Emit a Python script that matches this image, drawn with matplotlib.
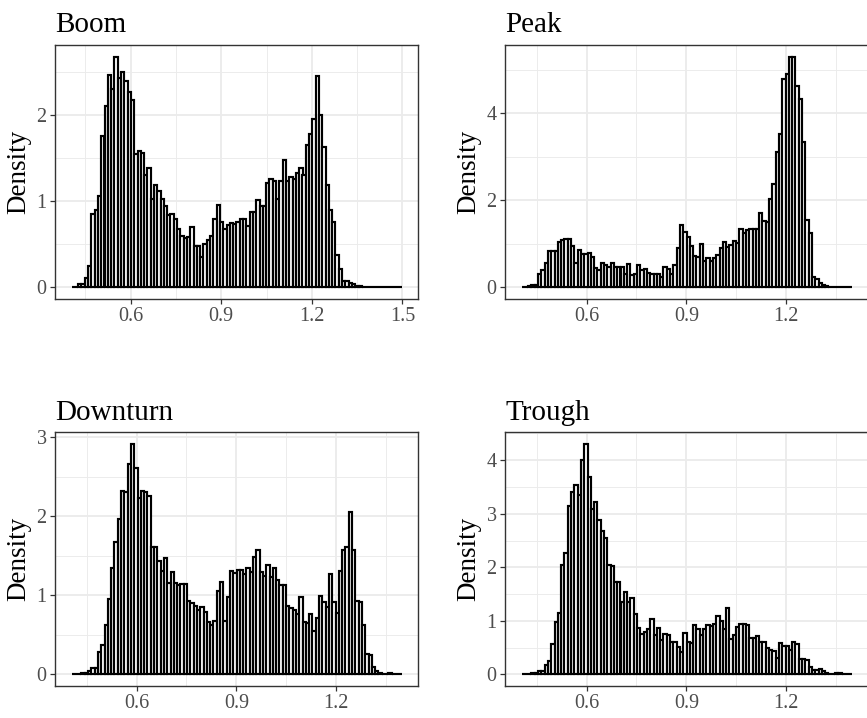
import numpy as np
import matplotlib
matplotlib.use("Agg")
import matplotlib.pyplot as plt

# --- data: histogram densities (100 bins per panel) ---
boom_range = (0.404, 1.497)
boom_density = [
    0.0, 0.01, 0.04, 0.04, 0.11, 0.25, 0.85, 0.90, 1.06, 1.76,
    2.11, 2.47, 2.30, 2.68, 2.43, 2.50, 2.40, 2.27, 2.18, 1.55,
    1.58, 1.56, 1.30, 1.39, 1.03, 1.19, 1.12, 1.03, 0.95, 0.84,
    0.85, 0.79, 0.68, 0.60, 0.57, 0.58, 0.70, 0.48, 0.48, 0.35,
    0.50, 0.55, 0.60, 0.80, 0.96, 0.76, 0.68, 0.72, 0.75, 0.74,
    0.76, 0.79, 0.79, 0.71, 0.87, 0.87, 1.01, 0.95, 0.95, 1.21,
    1.26, 1.24, 1.03, 1.23, 1.48, 1.23, 1.28, 1.26, 1.33, 1.39,
    1.30, 1.65, 1.78, 1.95, 2.45, 2.00, 1.63, 1.19, 0.90, 0.76,
    0.38, 0.21, 0.08, 0.07, 0.05, 0.04, 0.02, 0.02, 0.005, 0.005,
    0.005, 0.005, 0.005, 0.005, 0.005, 0.005, 0.005, 0.005, 0.005, 0.005,
]

peak_range = (0.404, 1.397)
peak_density = [
    0.005, 0.01, 0.04, 0.06, 0.05, 0.32, 0.40, 0.57, 0.83, 0.83,
    0.84, 1.05, 1.09, 1.12, 1.12, 0.96, 0.57, 0.86, 0.76, 0.76,
    0.78, 0.70, 0.44, 0.41, 0.55, 0.51, 0.48, 0.55, 0.48, 0.48,
    0.46, 0.30, 0.54, 0.28, 0.31, 0.51, 0.41, 0.42, 0.33, 0.32,
    0.32, 0.32, 0.24, 0.46, 0.42, 0.30, 0.51, 0.90, 1.44, 1.28,
    1.15, 0.96, 0.73, 0.69, 0.99, 0.61, 0.67, 0.60, 0.67, 0.74,
    0.90, 1.05, 0.92, 0.98, 1.07, 1.03, 1.34, 1.26, 1.31, 1.34,
    1.35, 1.35, 1.72, 1.53, 1.51, 2.04, 2.38, 3.10, 3.53, 4.79,
    4.89, 5.30, 5.30, 4.63, 4.32, 3.33, 1.55, 1.24, 0.23, 0.19,
    0.10, 0.05, 0.03, 0.02, 0.01, 0.01, 0.01, 0.005, 0.005, 0.005,
]

downturn_range = (0.404, 1.397)
downturn_density = [
    0.005, 0.005, 0.01, 0.02, 0.02, 0.05, 0.08, 0.08, 0.28, 0.37,
    0.62, 0.95, 1.35, 1.68, 1.96, 2.32, 2.31, 2.66, 2.92, 2.61,
    2.23, 2.32, 2.31, 2.26, 1.61, 1.61, 1.44, 1.31, 1.47, 1.16,
    1.30, 1.16, 1.13, 1.14, 1.14, 0.93, 0.90, 0.86, 0.82, 0.85,
    0.79, 0.66, 0.63, 0.68, 1.05, 1.17, 0.68, 0.98, 1.31, 1.28,
    1.32, 1.32, 1.27, 1.35, 1.30, 1.49, 1.58, 1.30, 1.24, 1.39,
    1.23, 1.35, 1.20, 1.13, 1.13, 0.86, 0.84, 0.82, 0.76, 0.98,
    0.66, 0.65, 0.76, 0.55, 0.71, 0.99, 0.91, 0.85, 1.27, 0.91,
    0.78, 1.31, 1.58, 1.61, 2.05, 1.58, 0.93, 0.91, 0.63, 0.26,
    0.24, 0.10, 0.05, 0.02, 0.005, 0.01, 0.02, 0.005, 0.005, 0.005,
]

trough_range = (0.404, 1.397)
trough_density = [
    0.005, 0.005, 0.01, 0.02, 0.03, 0.06, 0.07, 0.18, 0.25, 0.56,
    0.98, 1.15, 2.05, 2.27, 3.14, 3.40, 3.53, 3.35, 4.01, 4.31,
    3.68, 3.09, 3.21, 2.88, 2.68, 2.54, 2.05, 2.03, 1.72, 1.72,
    1.35, 1.53, 1.35, 1.43, 1.13, 0.87, 0.76, 0.79, 0.85, 1.04,
    0.73, 0.86, 0.65, 0.75, 0.73, 0.60, 0.61, 0.52, 0.42, 0.77,
    0.60, 0.58, 0.93, 0.85, 0.74, 0.84, 0.93, 0.90, 0.94, 1.10,
    0.99, 0.85, 1.24, 0.66, 0.73, 0.89, 0.94, 0.94, 0.93, 0.68,
    0.68, 0.71, 0.60, 0.60, 0.50, 0.45, 0.43, 0.30, 0.59, 0.54,
    0.54, 0.45, 0.60, 0.56, 0.28, 0.28, 0.27, 0.14, 0.09, 0.09,
    0.10, 0.07, 0.02, 0.01, 0.01, 0.03, 0.02, 0.01, 0.005, 0.005,
]

panels = [
    ("Boom", boom_range, boom_density, [0.6, 0.9, 1.2, 1.5], [0, 1, 2]),
    ("Peak", peak_range, peak_density, [0.6, 0.9, 1.2], [0, 2, 4]),
    ("Downturn", downturn_range, downturn_density, [0.6, 0.9, 1.2], [0, 1, 2, 3]),
    ("Trough", trough_range, trough_density, [0.6, 0.9, 1.2], [0, 1, 2, 3, 4]),
]

plt.rcParams["font.family"] = ["Liberation Serif", "DejaVu Serif"]

W, H = 867, 718
fig = plt.figure(figsize=(W / 100, H / 100), dpi=100)

# axes boxes in pixels: (left, top)
boxes = [(55, 45), (505, 45), (55, 432), (505, 432)]
box_w, box_h = 363, 254

for (title, (lo, hi), dens, xt, yt), (left, top) in zip(panels, boxes):
    ax = fig.add_axes([left / W, 1 - (top + box_h) / H, box_w / W, box_h / H])
    edges = np.linspace(lo, hi, len(dens) + 1)
    ax.bar(edges[:-1], dens, width=edges[1] - edges[0], align="edge",
           color="white", edgecolor="black", linewidth=1.55, zorder=3)

    span = hi - lo
    ax.set_xlim(lo - 0.05 * span, hi + 0.05 * span)
    ymax = max(dens)
    ax.set_ylim(-0.05 * ymax, ymax * 1.05)

    ax.set_xticks(xt)
    ax.set_xticklabels([f"{v:g}" for v in xt])
    ax.set_yticks(yt)
    ax.set_yticklabels([str(v) for v in yt])

    # minor gridlines halfway between the major breaks
    xstep = xt[1] - xt[0]
    ax.set_xticks(np.arange(xt[0] - xstep / 2, hi + 0.05 * span, xstep), minor=True)
    ystep = yt[1] - yt[0]
    ax.set_yticks(np.arange(ystep / 2, ymax * 1.05, ystep), minor=True)

    ax.grid(which="major", color="#EBEBEB", linewidth=1.3, zorder=0)
    ax.grid(which="minor", color="#EBEBEB", linewidth=0.65, zorder=0)
    ax.set_axisbelow(True)

    ax.tick_params(which="major", length=3.5, width=0.9, color="#333333",
                   labelsize=14.5, labelcolor="#4D4D4D", pad=2.5)
    ax.tick_params(which="minor", length=0)
    for s in ax.spines.values():
        s.set_color("#333333")
        s.set_linewidth(1.0)

    ax.set_ylabel("Density", fontsize=19.5, labelpad=4)
    ax.set_title(title, loc="left", fontsize=21, pad=9)

fig.savefig("out.png", dpi=100)
